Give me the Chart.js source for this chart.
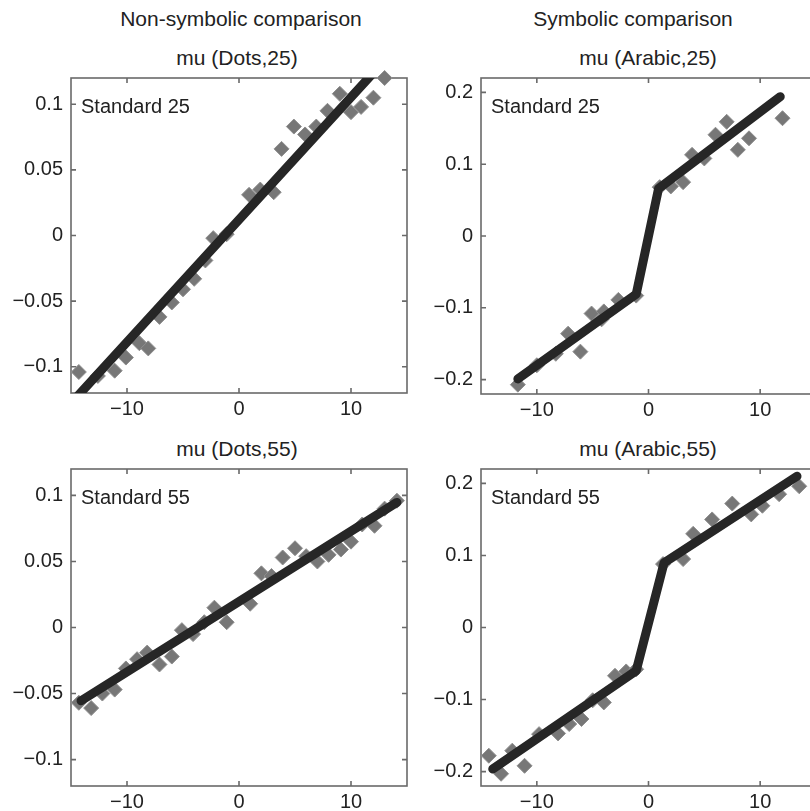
<!DOCTYPE html>
<html>
<head>
<meta charset="utf-8">
<script src="https://cdn.jsdelivr.net/npm/chart.js@4.4.1/dist/chart.umd.min.js"></script>
<style>
  html, body { margin: 0; padding: 0; width: 810px; height: 811px; overflow: hidden; background: #fff; }
  body { position: relative; font-family: "Liberation Sans", Arial, Helvetica, sans-serif; color: #222; }
  .head { position: absolute; white-space: nowrap; transform: translateX(-50%); font-size: 21px; line-height: 1; }
  canvas { position: absolute; }
</style>
</head>
<body>
<div class="head" style="left:241px; top:8px">Non-symbolic comparison</div>
<div class="head" style="left:633px; top:8px">Symbolic comparison</div>
<div class="head" style="left:237px; top:47px">mu (Dots,25)</div>
<div class="head" style="left:648px; top:47px">mu (Arabic,25)</div>
<div class="head" style="left:237px; top:438px">mu (Dots,55)</div>
<div class="head" style="left:648px; top:438px">mu (Arabic,55)</div>

<canvas id="dots25" width="426" height="375" style="left:1px; top:58px"></canvas>
<canvas id="arabic25" width="425" height="376" style="left:411px; top:58px"></canvas>
<canvas id="dots55" width="426" height="377" style="left:1px; top:449px"></canvas>
<canvas id="arabic55" width="425" height="377" style="left:411px; top:449px"></canvas>

<script>
const fontFamily = '"Liberation Sans", Arial, Helvetica, sans-serif';

// tick labels
const xTicks = [-10, 0, 10];
const dotsYTicks = [-0.1, -0.05, 0, 0.05, 0.1];
const arabicYTicks = [-0.2, -0.1, 0, 0.1, 0.2];

// mu (Dots,25)
const dots25X = [-14.3, -12.6, -11.1, -10.1, -8.9, -8.1, -7.1, -6.0, -5.0, -4.0, -3.0, -2.3, -1.1, 0.9, 1.9, 3.1, 3.8, 4.9, 5.9, 6.9, 7.9, 9.0, 10.0, 10.9, 12.0, 13.0];
const dots25Y = [-0.104, -0.107, -0.103, -0.093, -0.082, -0.086, -0.062, -0.051, -0.041, -0.033, -0.019, -0.002, 0.001, 0.031, 0.035, 0.033, 0.066, 0.083, 0.077, 0.083, 0.095, 0.108, 0.094, 0.098, 0.105, 0.120];
const dots25LineX = [-14.8, 12.0];
const dots25LineY = [-0.126, 0.124];

// mu (Arabic,25)
const arabic25X = [-11.7, -10.0, -8.3, -7.2, -6.1, -5.1, -4.2, -4.0, -2.7, -1.1, 1.0, 2.0, 3.1, 3.9, 5.0, 6.0, 7.0, 8.0, 9.0, 12.0];
const arabic25Y = [-0.207, -0.180, -0.164, -0.136, -0.161, -0.108, -0.116, -0.105, -0.089, -0.083, 0.068, 0.069, 0.075, 0.113, 0.108, 0.141, 0.159, 0.120, 0.136, 0.164];
const arabic25LineX = [-11.7, -1.1, 0.9, 11.8];
const arabic25LineY = [-0.199, -0.081, 0.066, 0.194];

// mu (Dots,55)
const dots55X = [-14.3, -13.2, -12.2, -11.1, -10.1, -9.1, -8.2, -7.1, -6.0, -5.1, -4.1, -3.1, -2.2, -1.1, 1.0, 2.0, 2.9, 3.9, 5.0, 6.0, 7.0, 8.0, 9.1, 10.0, 11.0, 12.1, 13.0, 14.1];
const dots55Y = [-0.057, -0.061, -0.050, -0.047, -0.031, -0.024, -0.019, -0.028, -0.022, -0.002, -0.005, 0.004, 0.015, 0.004, 0.018, 0.041, 0.039, 0.053, 0.060, 0.054, 0.050, 0.055, 0.059, 0.065, 0.078, 0.077, 0.090, 0.096];
const dots55LineX = [-14.1, 14.1];
const dots55LineY = [-0.0555, 0.0947];

// mu (Arabic,55)
const arabic55X = [-14.3, -13.2, -12.2, -11.1, -9.8, -8.1, -7.1, -6.0, -5.0, -4.0, -3.0, -2.0, -1.1, 1.3, 3.1, 4.0, 5.7, 7.5, 9.2, 10.2, 11.7, 13.5];
const arabic55Y = [-0.178, -0.203, -0.171, -0.192, -0.148, -0.147, -0.134, -0.127, -0.101, -0.104, -0.067, -0.061, -0.058, 0.088, 0.095, 0.130, 0.150, 0.172, 0.157, 0.169, 0.185, 0.196];
const arabic55LineX = [-13.95, -1.1, 1.4, 13.3];
const arabic55LineY = [-0.1965, -0.060, 0.090, 0.210];

const panels = [
  { id: 'dots25', note: 'Standard 25', xs: dots25X, ys: dots25Y, lx: dots25LineX, ly: dots25LineY, yLim: 0.12, yTicks: dotsYTicks },
  { id: 'arabic25', note: 'Standard 25', xs: arabic25X, ys: arabic25Y, lx: arabic25LineX, ly: arabic25LineY, yLim: 0.22, yTicks: arabicYTicks },
  { id: 'dots55', note: 'Standard 55', xs: dots55X, ys: dots55Y, lx: dots55LineX, ly: dots55LineY, yLim: 0.12, yTicks: dotsYTicks },
  { id: 'arabic55', note: 'Standard 55', xs: arabic55X, ys: arabic55Y, lx: arabic55LineX, ly: arabic55LineY, yLim: 0.22, yTicks: arabicYTicks }
];

// minus sign like the original figure
function fmt(v) {
  return (v < 0 ? '\u2212' : '') + Math.abs(v);
}

// matlab-ish box with inward ticks on all four sides, plus the corner note
const boxTicks = {
  id: 'boxTicks',
  beforeDatasetsDraw(chart, args, opts) {
    const { ctx, chartArea: a, scales } = chart;
    ctx.save();
    ctx.strokeStyle = '#6a6a6a';
    ctx.lineWidth = 1.6;
    ctx.strokeRect(a.left, a.top, a.right - a.left, a.bottom - a.top);
    ctx.beginPath();
    scales.x.ticks.forEach(t => {
      const px = scales.x.getPixelForValue(t.value);
      ctx.moveTo(px, a.bottom); ctx.lineTo(px, a.bottom - 5);
      ctx.moveTo(px, a.top); ctx.lineTo(px, a.top + 5);
    });
    scales.y.ticks.forEach(t => {
      const py = scales.y.getPixelForValue(t.value);
      ctx.moveTo(a.left, py); ctx.lineTo(a.left + 5, py);
      ctx.moveTo(a.right, py); ctx.lineTo(a.right - 5, py);
    });
    ctx.stroke();
    ctx.fillStyle = '#222';
    ctx.font = '20px ' + fontFamily;
    ctx.textBaseline = 'middle';
    ctx.fillText(opts.note, a.left + 10, a.top + 29);
    ctx.restore();
  }
};

panels.forEach(p => {
  const pts = p.xs.map((x, i) => ({ x: x, y: p.ys[i] }));
  const fit = p.lx.map((x, i) => ({ x: x, y: p.ly[i] }));
  const tickFont = { family: fontFamily, size: 20 };

  new Chart(document.getElementById(p.id), {
    type: 'scatter',
    data: {
      datasets: [
        {
          data: fit,
          showLine: true,
          borderColor: '#262626',
          borderWidth: 9,
          borderCapStyle: 'round',
          borderJoinStyle: 'round',
          pointRadius: 0
        },
        {
          data: pts,
          pointStyle: 'rectRot',
          pointRadius: 7.5,
          backgroundColor: '#777777',
          borderColor: '#8e8e8e',
          borderWidth: 1,
          clip: false
        }
      ]
    },
    options: {
      responsive: false,
      animation: false,
      events: [],
      layout: { padding: { top: 20, right: 20, left: 0, bottom: 0 } },
      plugins: {
        legend: { display: false },
        tooltip: { enabled: false },
        boxTicks: { note: p.note }
      },
      scales: {
        x: {
          type: 'linear',
          min: -15,
          max: 15,
          grid: { display: false, drawTicks: false },
          border: { display: false },
          afterBuildTicks: s => { s.ticks = xTicks.map(v => ({ value: v })); },
          afterFit: s => { s.height = 40; },
          ticks: { padding: 4, color: '#222', font: tickFont, callback: fmt }
        },
        y: {
          type: 'linear',
          min: -p.yLim,
          max: p.yLim,
          grid: { display: false, drawTicks: false },
          border: { display: false },
          afterBuildTicks: s => { s.ticks = p.yTicks.map(v => ({ value: v })); },
          afterFit: s => { s.width = 70; },
          ticks: { padding: 8, color: '#222', font: tickFont, callback: fmt }
        }
      }
    },
    plugins: [boxTicks]
  });
});
</script>
</body>
</html>
